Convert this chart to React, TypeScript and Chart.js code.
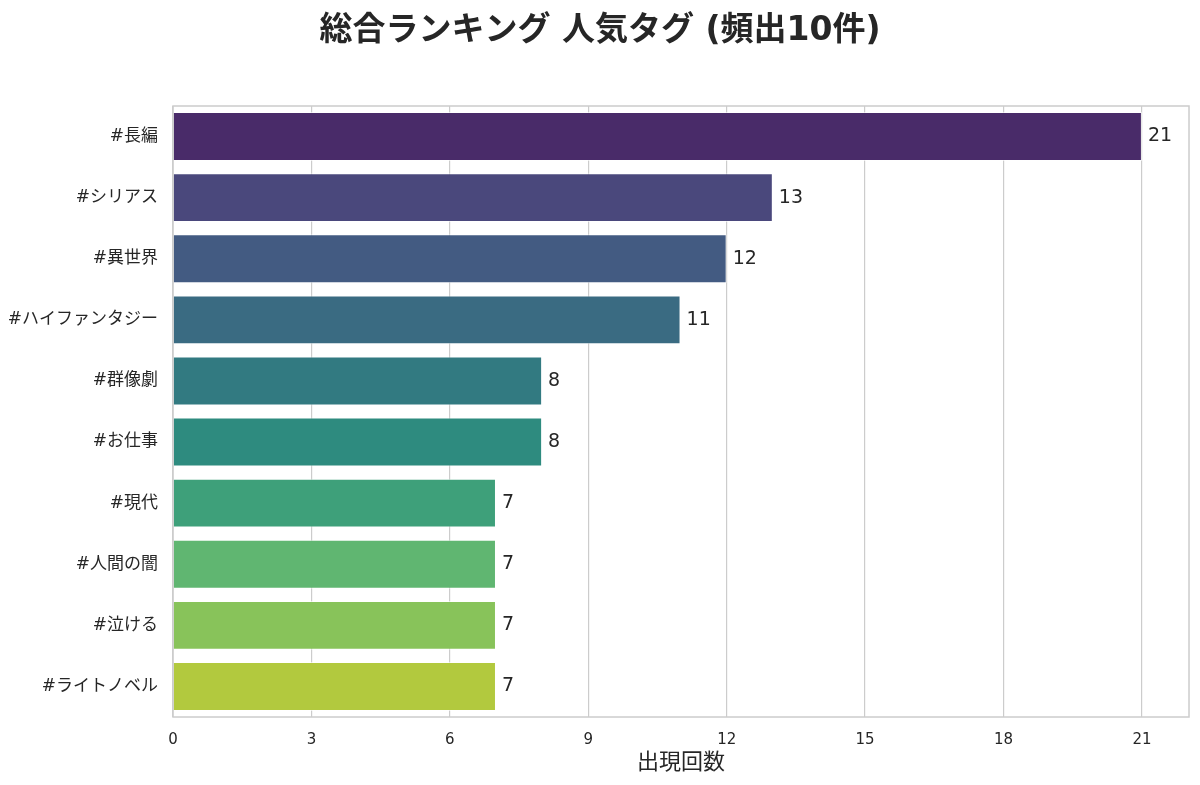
import React, { useEffect, useRef } from "react";
import { Chart, registerables } from "chart.js";

Chart.register(...registerables);

const titleText = "総合ランキング 人気タグ (頻出10件)";
const tags = [
  "#長編",
  "#シリアス",
  "#異世界",
  "#ハイファンタジー",
  "#群像劇",
  "#お仕事",
  "#現代",
  "#人間の闇",
  "#泣ける",
  "#ライトノベル",
];
const counts = [21, 13, 12, 11, 8, 8, 7, 7, 7, 7];
const xTickValues = [0, 3, 6, 9, 12, 15, 18, 21];
const xAxisTitle = "出現回数";
const xMax = 22.02;

// viridis samples (seaborn 10-colour palette)
const baseColors = [
  "#482173",
  "#423f85",
  "#38598c",
  "#2e6f8e",
  "#25858e",
  "#1f9a8a",
  "#2eb07d",
  "#52c468",
  "#86d449",
  "#c1e027",
];

function desaturate(hex: string, prop: number): string {
  const r = parseInt(hex.slice(1, 3), 16) / 255;
  const g = parseInt(hex.slice(3, 5), 16) / 255;
  const b = parseInt(hex.slice(5, 7), 16) / 255;
  const mx = Math.max(r, g, b);
  const mn = Math.min(r, g, b);
  const l = (mx + mn) / 2;
  let h = 0;
  let s = 0;
  const d = mx - mn;
  if (d > 0) {
    s = l <= 0.5 ? d / (mx + mn) : d / (2 - mx - mn);
    if (mx === r) h = ((g - b) / d) / 6;
    else if (mx === g) h = (2 + (b - r) / d) / 6;
    else h = (4 + (r - g) / d) / 6;
    if (h < 0) h += 1;
  }
  s *= prop;
  const m2 = l <= 0.5 ? l * (1 + s) : l + s - l * s;
  const m1 = 2 * l - m2;
  const v = (hh: number) => {
    hh = ((hh % 1) + 1) % 1;
    if (hh < 1 / 6) return m1 + (m2 - m1) * hh * 6;
    if (hh < 0.5) return m2;
    if (hh < 2 / 3) return m1 + (m2 - m1) * (2 / 3 - hh) * 6;
    return m1;
  };
  const to = (x: number) => Math.round(x * 255).toString(16).padStart(2, "0");
  return "#" + to(v(h + 1 / 3)) + to(v(h)) + to(v(h - 1 / 3));
}

const FONT = "'DejaVu Sans', 'Noto Sans CJK JP', sans-serif";
const TEXT = "#262626";

export default function App() {
  const ref = useRef<HTMLCanvasElement | null>(null);
  useEffect(() => {
    document.body.style.margin = "0";
    const canvas = ref.current;
    if (!canvas) return;
    const colors = baseColors.map((c) => desaturate(c, 0.75));

    const decor = {
      id: "decor",
      afterDatasetsDraw(chart: any) {
        const { ctx, chartArea } = chart;
        ctx.save();
        ctx.strokeStyle = "#cccccc";
        ctx.lineWidth = 1.5;
        ctx.strokeRect(chartArea.left, chartArea.top, chartArea.right - chartArea.left, chartArea.bottom - chartArea.top);
        const meta = chart.getDatasetMeta(0);
        ctx.fillStyle = TEXT;
        ctx.font = `19px ${FONT}`;
        ctx.textBaseline = "middle";
        ctx.textAlign = "left";
        meta.data.forEach((bar: any, i: number) => {
          ctx.fillText(String(counts[i]), bar.x + 6, bar.y);
        });
        ctx.restore();
      },
      afterDraw(chart: any) {
        const { ctx } = chart;
        ctx.save();
        ctx.fillStyle = TEXT;
        ctx.font = `bold 33px ${FONT}`;
        ctx.textAlign = "center";
        ctx.textBaseline = "middle";
        ctx.fillText(titleText, chart.width / 2, 31);
        ctx.restore();
      },
    };

    const chart = new Chart(canvas, {
      type: "bar",
      data: {
        labels: tags,
        datasets: [
          {
            data: counts,
            backgroundColor: colors,
            borderColor: "rgba(255,255,255,0.6)",
            borderWidth: 1,
            categoryPercentage: 0.8,
            barPercentage: 1.0,
          },
        ],
      },
      options: {
        indexAxis: "y",
        animation: false,
        responsive: false,
        devicePixelRatio: 1,
        layout: { padding: { top: 106, right: 11, left: 0, bottom: 0 } },
        plugins: {
          legend: { display: false },
          tooltip: { enabled: false },
          title: { display: false },
        },
        scales: {
          x: {
            type: "linear",
            min: 0,
            max: xMax,
            afterBuildTicks: (scale: any) => {
              scale.ticks = xTickValues.map((v) => ({ value: v }));
            },
            afterFit: (scale: any) => {
              scale.height = 68;
            },
            grid: { color: "#cccccc", lineWidth: 1.2, drawTicks: false },
            border: { display: false },
            ticks: {
              color: TEXT,
              font: { family: FONT, size: 15 },
              padding: 14,
              maxRotation: 0,
            },
            title: {
              display: true,
              text: xAxisTitle,
              color: TEXT,
              font: { family: FONT, size: 22 },
              padding: { top: 0, bottom: 9 },
            },
          },
          y: {
            afterFit: (scale: any) => {
              scale.width = 173;
            },
            grid: { display: false, drawTicks: false },
            border: { display: false },
            ticks: {
              color: TEXT,
              font: { family: FONT, size: 17 },
              padding: 15,
            },
          },
        },
      },
      plugins: [decor],
    });
    return () => chart.destroy();
  }, []);
  return (
    <div style={{ width: 1200, height: 785 }}>
      <canvas ref={ref} width={1200} height={785} style={{ display: "block" }} />
    </div>
  );
}
